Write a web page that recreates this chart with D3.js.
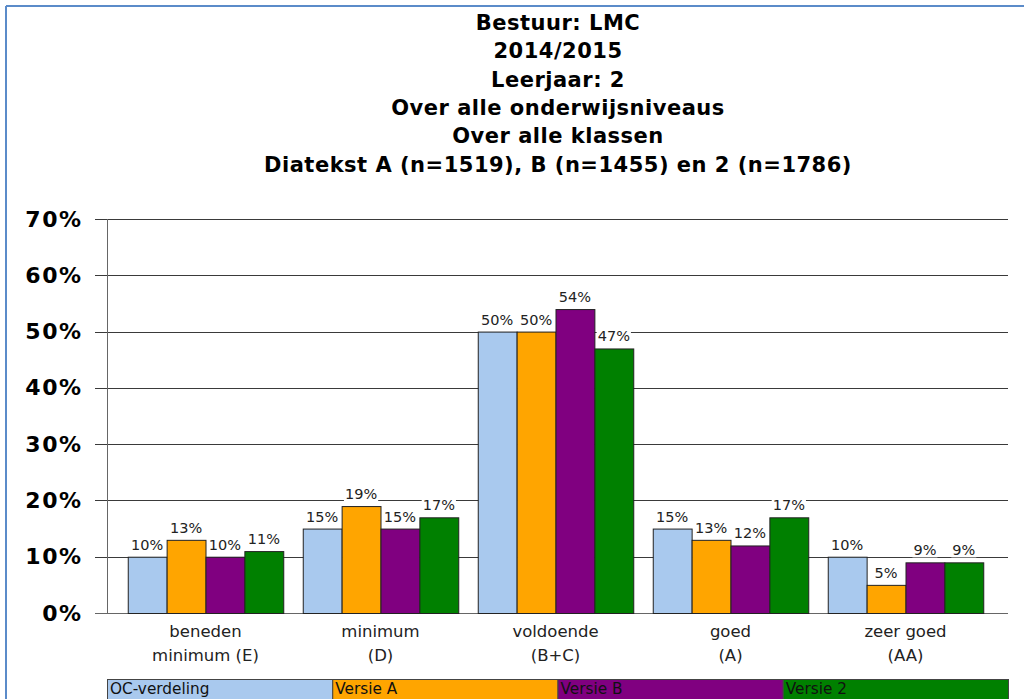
<!DOCTYPE html>
<html>
<head>
<meta charset="utf-8">
<script src="https://cdn.jsdelivr.net/npm/d3@7"></script>
<style>
  body { margin: 0; background: #fff; }
  svg { display: block; }
</style>
</head>
<body>
<script>
'use strict';

// chart data
const titleLines = [
  "Bestuur: LMC",
  "2014/2015",
  "Leerjaar: 2",
  "Over alle onderwijsniveaus",
  "Over alle klassen",
  "Diatekst A (n=1519), B (n=1455) en 2 (n=1786)"
];
const categories = ["E", "D", "BC", "A", "AA"];
const categoryLabels = [
  ["beneden", "minimum (E)"],
  ["minimum", "(D)"],
  ["voldoende", "(B+C)"],
  ["goed", "(A)"],
  ["zeer goed", "(AA)"]
];
const seriesNames = ["OC-verdeling", "Versie A", "Versie B", "Versie 2"];
const seriesColors = ["#a9c9ee", "#ffa500", "#800080", "#008000"];
const ocValues = [10, 15, 50, 15, 10];
const versieA = [13, 19, 50, 13, 5];
const versieB = [10, 15, 54, 12, 9];
const versie2 = [11, 17, 47, 17, 9];
const yTicks = [0, 10, 20, 30, 40, 50, 60, 70];

const seriesValues = [ocValues, versieA, versieB, versie2];

const W = 1024, H = 699;
const plot = {left: 107, right: 1008, top: 219, bottom: 613};

const svg = d3.select("body").append("svg")
  .attr("width", W)
  .attr("height", H);

// outer frame (blue, top + left only visible)
svg.append("line")
  .attr("x1", 6).attr("x2", W).attr("y1", 6).attr("y2", 6)
  .style("stroke", "#5b8bc9").style("stroke-width", 2);
svg.append("line")
  .attr("x1", 6).attr("x2", 6).attr("y1", 6).attr("y2", H)
  .style("stroke", "#5b8bc9").style("stroke-width", 2);

// title
svg.append("g").selectAll("text")
  .data(titleLines)
  .enter().append("text")
  .attr("x", 558)
  .attr("y", (d, i) => 30 + i * 28.3)
  .style("text-anchor", "middle")
  .style("font-family", "'DejaVu Sans', Verdana, sans-serif")
  .style("font-weight", "bold")
  .style("font-size", "21px")
  .style("letter-spacing", "0.5px")
  .style("fill", "#000")
  .text(d => d);

// scales
const y = d3.scaleLinear().domain([0, 70]).range([plot.bottom, plot.top]);
const x0 = d3.scaleBand().domain(categories).range([118, 993]);
const groupW = 155.5;
const x1 = d3.scaleBand().domain(seriesNames).range([0, groupW]);
const groupOffset = (x0.bandwidth() - groupW) / 2;

// grid lines + ticks
const grid = svg.append("g");
grid.selectAll("line")
  .data(yTicks.filter(t => t > 0))
  .enter().append("line")
  .attr("x1", 95).attr("x2", plot.right)
  .attr("y1", d => Math.round(y(d)) + 0.5)
  .attr("y2", d => Math.round(y(d)) + 0.5)
  .style("stroke", "#3a3a3a").style("stroke-width", 1);

// y axis via d3 axis, tick labels only
const yAxis = d3.axisLeft(y)
  .tickValues(yTicks)
  .tickSize(0)
  .tickPadding(0)
  .tickFormat(d => d + "%");
const yAxisG = svg.append("g")
  .attr("transform", "translate(82.5,0)")
  .call(yAxis);
yAxisG.select(".domain").remove();
yAxisG.selectAll("text")
  .style("font-family", "'DejaVu Sans', Verdana, sans-serif")
  .style("font-weight", "bold")
  .style("font-size", "22px")
  .style("letter-spacing", "1.5px")
  .style("fill", "#000");

// axis lines
svg.append("line")
  .attr("x1", plot.left + 0.5).attr("x2", plot.left + 0.5)
  .attr("y1", plot.top).attr("y2", plot.bottom)
  .style("stroke", "#666").style("stroke-width", 1);
svg.append("line")
  .attr("x1", 95).attr("x2", plot.right)
  .attr("y1", plot.bottom + 0.5).attr("y2", plot.bottom + 0.5)
  .style("stroke", "#666").style("stroke-width", 1);

// bars
const groups = svg.append("g").selectAll("g")
  .data(categories)
  .enter().append("g")
  .attr("transform", d => "translate(" + (x0(d) + groupOffset) + ",0)");

const barData = (c, ci) => seriesNames.map((s, si) => ({s: s, si: si, v: seriesValues[si][ci]}));

groups.each(function(c, ci) {
  const g = d3.select(this);
  const items = barData(c, ci);

  g.selectAll("rect.bar")
    .data(items)
    .enter().append("rect")
    .attr("class", "bar")
    .attr("x", d => x1(d.s) + 0.5)
    .attr("y", d => y(d.v) + 0.5)
    .attr("width", x1.bandwidth())
    .attr("height", d => plot.bottom - y(d.v))
    .style("fill", d => seriesColors[d.si])
    .style("stroke", "#222")
    .style("stroke-width", 1);

  // value labels with white backing
  items.forEach(d => {
    const lg = g.append("g");
    const t = lg.append("text")
      .attr("x", x1(d.s) + x1.bandwidth() / 2)
      .attr("y", y(d.v) - 7)
      .style("text-anchor", "middle")
      .style("font-family", "'DejaVu Sans', Verdana, sans-serif")
      .style("font-size", "14.5px")
      .style("fill", "#222")
      .text(d.v + "%");
    const bb = t.node().getBBox();
    lg.insert("rect", "text")
      .attr("x", bb.x - 1)
      .attr("y", bb.y + 2)
      .attr("width", bb.width + 2)
      .attr("height", bb.height - 3)
      .style("fill", "#fff");
  });
});

// category labels
const catLabels = svg.append("g").selectAll("text")
  .data(categories)
  .enter().append("text")
  .attr("x", d => x0(d) + x0.bandwidth() / 2)
  .attr("y", 637)
  .style("text-anchor", "middle")
  .style("font-family", "'DejaVu Sans', Verdana, sans-serif")
  .style("font-size", "16.5px")
  .style("fill", "#222");
catLabels.each(function(d, i) {
  d3.select(this).selectAll("tspan")
    .data(categoryLabels[i])
    .enter().append("tspan")
    .attr("x", x0(d) + x0.bandwidth() / 2)
    .attr("dy", (l, j) => j === 0 ? 0 : 23.5)
    .text(l => l);
});

// legend strip
const legendX = d3.scaleBand().domain(seriesNames).range([plot.left, plot.right]);
const legend = svg.append("g");
legend.selectAll("rect")
  .data(seriesNames)
  .enter().append("rect")
  .attr("x", d => legendX(d) + 0.5)
  .attr("y", 679.5)
  .attr("width", legendX.bandwidth())
  .attr("height", 26)
  .style("fill", (d, i) => seriesColors[i])
  .style("stroke", "#444")
  .style("stroke-width", 1);
legend.selectAll("text")
  .data(seriesNames)
  .enter().append("text")
  .attr("x", d => legendX(d) + 3)
  .attr("y", 693.5)
  .style("font-family", "'DejaVu Sans', Verdana, sans-serif")
  .style("font-size", "15.3px")
  .style("fill", "#111")
  .text(d => d);
</script>
</body>
</html>
